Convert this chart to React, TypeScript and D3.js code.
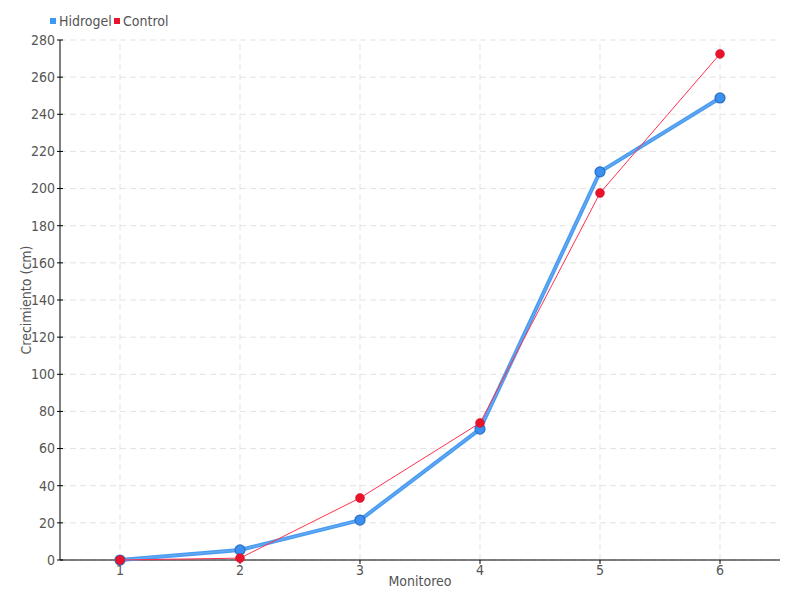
import React from "react";
import * as d3 from "d3";

const categories = [1, 2, 3, 4, 5, 6];
const hidrogel = [0, 5.4, 21.5, 70.5, 209, 248.8];
const control = [0, 1, 33.4, 73.8, 197.6, 272.5];
const yTicks = d3.range(0, 281, 20);

const W = 800, H = 600;
const M = { left: 60, right: 20, top: 40, bottom: 40 };
const FONT = "'DejaVu Sans Condensed', 'Liberation Sans Narrow', sans-serif";

export default function App() {
  const x = d3.scaleLinear().domain([0.5, 6.5]).range([M.left, W - M.right]);
  const y = d3.scaleLinear().domain([0, 280]).range([H - M.bottom, M.top]);
  const line = d3.line<number>().x((_, i) => x(categories[i])).y((d) => y(d));
  const x0 = M.left, x1 = W - M.right, y0 = H - M.bottom, y1 = M.top;
  return (
    <svg width={W} height={H} style={{ position: "absolute", left: 0, top: 0, fontFamily: FONT }}>
      <rect width={W} height={H} fill="#fff" />
      {yTicks.map((t) => (
        <line key={"gy" + t} x1={x0} x2={x1} y1={y(t)} y2={y(t)} stroke="#e3e3e3" strokeDasharray="6,4" />
      ))}
      {categories.map((c) => (
        <line key={"gx" + c} x1={x(c)} x2={x(c)} y1={y0} y2={y1} stroke="#e3e3e3" strokeDasharray="6,4" />
      ))}
      <line x1={x0} x2={x0} y1={y1} y2={y0} stroke="#000" />
      <line x1={x0} x2={x1} y1={y0} y2={y0} stroke="#000" />
      {yTicks.map((t) => (
        <g key={"ty" + t}>
          <line x1={x0 - 3} x2={x0 + 3} y1={y(t)} y2={y(t)} stroke="#000" />
          <text x={x0 - 5} y={y(t)} dy="0.35em" textAnchor="end" fontSize={14} fill="#555">{t}</text>
        </g>
      ))}
      {categories.map((c) => (
        <g key={"tx" + c}>
          <line x1={x(c)} x2={x(c)} y1={y0} y2={y0 + 4} stroke="#000" />
          <text x={x(c)} y={y0 + 15} textAnchor="middle" fontSize={14} fill="#555">{c}</text>
        </g>
      ))}
      <text x={420} y={586} textAnchor="middle" fontSize={14} fill="#555">Monitoreo</text>
      <text transform={`translate(31,${300}) rotate(-90)`} textAnchor="middle" fontSize={14} fill="#555">Crecimiento (cm)</text>

      <path d={line(hidrogel) || ""} fill="none" stroke="#4b9cf0" strokeWidth={4} strokeLinejoin="round" />
      <path d={line(hidrogel) || ""} fill="none" stroke="#7fb9f5" strokeWidth={1} opacity={0.6} />
      {hidrogel.map((v, i) => (
        <circle key={"h" + i} cx={x(categories[i])} cy={y(v)} r={5} fill="#3a8ff0" stroke="#2a6fc0" strokeWidth={1.2} />
      ))}
      <path d={line(control) || ""} fill="none" stroke="#ff3050" strokeWidth={1} />
      {control.map((v, i) => (
        <circle key={"c" + i} cx={x(categories[i])} cy={y(v)} r={4.5} fill="#e8142c" stroke="#d01028" strokeWidth={0.5} />
      ))}

      <rect x={50} y={18} width={6} height={6} fill="#3a9af5" />
      <text x={59} y={26} fontSize={14} fill="#555">Hidrogel</text>
      <rect x={114} y={18} width={6} height={6} fill="#e8142c" />
      <text x={123} y={26} fontSize={14} fill="#555">Control</text>
    </svg>
  );
}
